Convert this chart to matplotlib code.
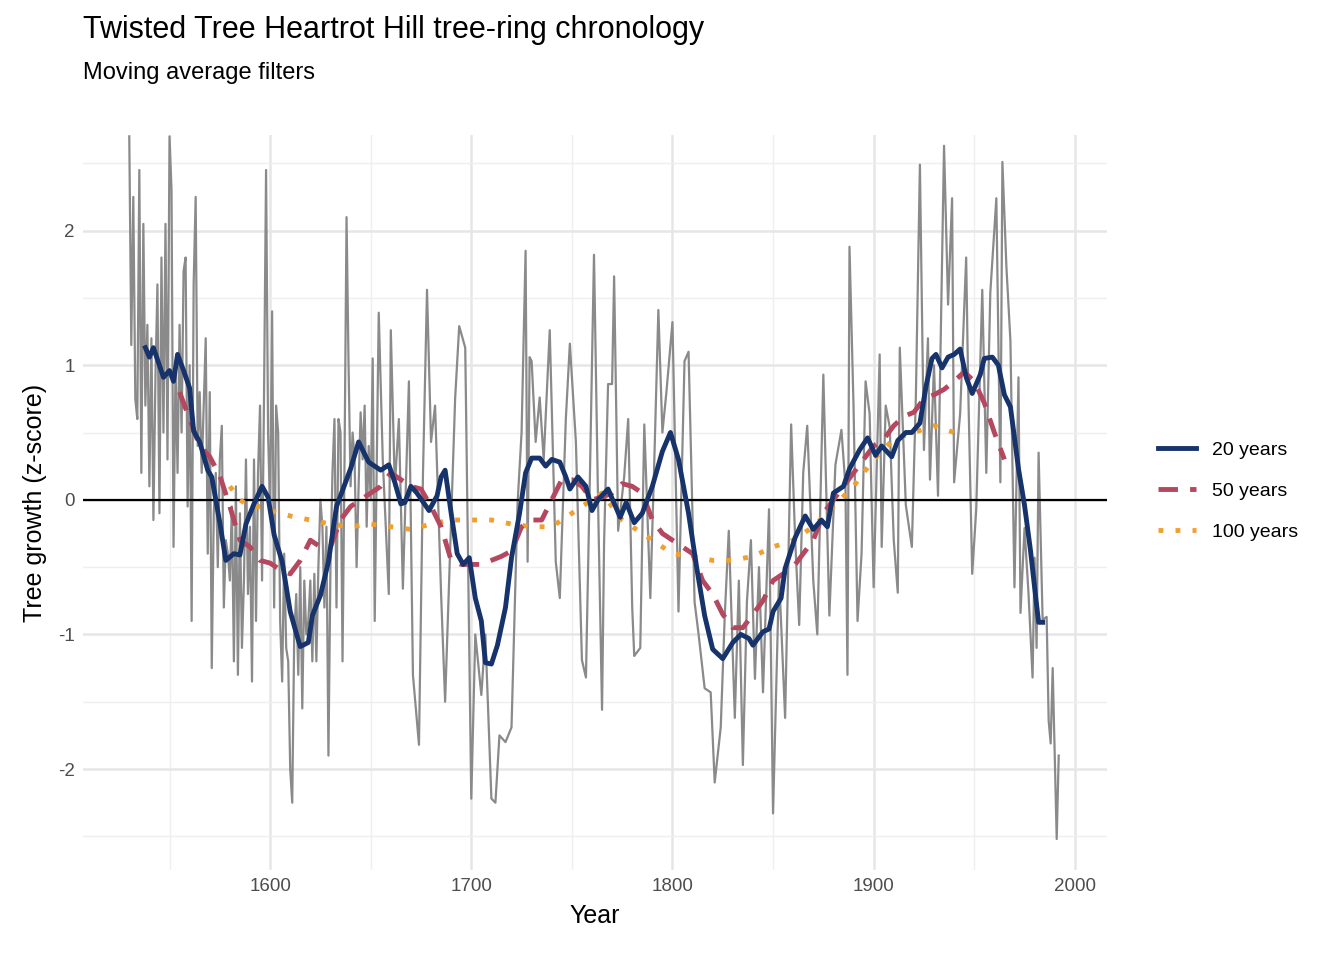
import matplotlib
matplotlib.use("Agg")
import matplotlib.pyplot as plt
from matplotlib.ticker import MultipleLocator

plt.rcParams['font.family'] = ['Liberation Sans', 'DejaVu Sans']
plt.rcParams['axes.unicode_minus'] = False

raw_years = [1530,1531,1532,1533,1534,1535,1536,1537,1538,1539,1540,1541,1542,1543,1544,1545,1546,1547,1548,1549,
             1550,1551,1552,1553,1554,1555,1556,1557,1558,1559,1560,1561,1562,1563,1564,1565,1566,1567,1568,1569,
             1570,1571,1572,1573,1574,1575,1576,1577,1578,1579,1580,1581,1582,1583,1584,1585,1586,1587,1588,1589,
             1590,1591,1592,1593,1594,1595,1596,1597,1598,1599,1600,1601,1602,1603,1604,1605,1606,1607,1608,1609,
             1610,1611,1612,1613,1614,1615,1616,1617,1618,1619,1620,1621,1622,1623,1624,1625,1626,1627,1628,1629,
             1630,1631,1632,1633,1634,1635,1636,1637,1638,1639,1640,1641,1642,1643,1644,1645,1646,1647,1648,1649,
             1650,1651,1652,1654,1656,1659,1660,1662,1664,1666,1669,1671,1674,1676,1678,1680,1682,1685,1687,1689,
             1692,1694,1697,1700,1702,1705,1707,1710,1712,1714,1717,1720,1723,1725,1727,1728,1729,1730,1732,1734,
             1736,1739,1742,1744,1747,1749,1752,1755,1757,1759,1761,1763,1765,1766,1768,1770,1771,1773,1776,1778,
             1780,1781,1784,1786,1789,1791,1793,1795,1797,1800,1803,1806,1808,1811,1813,1816,1819,1821,1824,1826,
             1828,1831,1833,1835,1837,1839,1841,1843,1845,1848,1850,1853,1856,1859,1861,1863,1865,1867,1870,1872,
             1875,1878,1881,1884,1886,1887,1888,1890,1892,1894,1896,1898,1900,1903,1904,1906,1908,1910,1912,1913,
             1916,1919,1921,1923,1925,1927,1928,1930,1932,1935,1937,1939,1940,1943,1946,1947,1949,1951,1954,1956,
             1958,1961,1963,1964,1966,1968,1970,1972,1973,1975,1977,1979,1980,1981,1982,1984,1986,1987,1988,1989,
             1991,1992]
raw_values = [2.7,1.15,2.25,0.75,0.6,2.45,0.2,2.05,0.7,1.3,0.1,1.2,-0.15,0.9,1.6,-0.1,1.8,0.5,2.05,0.3,
              2.7,2.3,-0.35,1.0,0.2,1.3,0.5,1.7,1.8,-0.05,1.0,-0.9,1.6,2.25,0.4,0.8,0.2,0.7,1.2,-0.4,
              0.8,-1.25,-0.1,0.2,-0.5,0.3,0.55,-0.8,-0.3,-0.4,-0.6,-0.05,-1.2,0.1,-1.3,-0.1,-1.1,-0.6,0.3,-0.7,
              -0.2,-1.35,0.3,-0.9,0.2,0.7,-0.6,0.8,2.45,0.5,-0.1,1.4,-0.8,0.7,0.5,-0.9,-1.35,-0.4,-1.1,-1.2,
              -2.0,-2.25,-1.0,-0.7,-1.3,-0.5,-1.55,-0.6,-1.0,-0.9,-0.6,-1.2,-0.55,-1.2,-0.5,0.0,-0.2,-0.8,-0.2,-1.9,
              -0.5,0.2,0.6,-0.8,0.6,0.5,-1.2,0.3,2.1,1.0,0.1,0.5,0.3,-0.5,0.1,0.65,0.3,0.7,-0.2,0.4,
              0.0,1.05,-0.9,1.39,0.3,-0.7,1.26,0.1,0.6,-0.66,0.88,-1.3,-1.82,0.2,1.56,0.43,0.7,-0.7,-1.5,-0.6,
              0.76,1.29,1.13,-2.22,-1.0,-1.45,-1.0,-2.22,-2.25,-1.75,-1.8,-1.69,-0.03,0.5,1.85,-0.46,1.06,1.03,0.43,0.76,
              0.3,1.26,-0.46,-0.73,0.6,1.16,0.43,-1.19,-1.32,0.2,1.82,0.0,-1.56,-0.33,0.86,0.86,1.66,-0.23,0.17,0.6,
              -0.8,-1.16,-1.1,0.56,-0.73,0.3,1.41,0.5,0.8,1.32,-0.83,1.03,1.1,-0.76,-1.0,-1.4,-1.43,-2.1,-1.69,-0.86,
              -0.23,-1.62,-0.6,-1.97,-0.76,-0.3,-1.33,-0.5,-1.43,-0.07,-2.33,-0.56,-1.62,0.56,-0.3,-0.93,0.2,0.55,-0.6,-1.0,
              0.93,-0.86,0.26,0.52,0.1,-1.3,1.88,0.7,-0.9,-0.4,0.88,0.64,-0.65,1.08,-0.35,0.7,0.54,-0.3,-0.69,1.13,
              -0.04,-0.35,0.77,2.49,0.37,1.2,0.15,1.0,0.03,2.63,1.45,2.24,0.13,0.64,1.8,0.84,-0.55,-0.07,1.56,0.2,
              1.54,2.24,0.13,2.51,1.73,1.18,-0.65,0.91,-0.84,-0.21,-0.7,-1.32,-0.43,-1.1,0.35,-0.89,-0.87,-1.64,-1.81,-1.25,
              -2.52,-1.9]

ma20_years = [1538,1540,1542,1547,1550,1552,1554,1557,1560,1562,1565,1569,1571,1575,1578,1582,1585,1588,1592,1596,
              1599,1602,1606,1610,1613,1615,1619,1621,1625,1629,1633,1636,1640,1644,1649,1655,1659,1662,1665,1667,
              1670,1673,1679,1683,1685,1687,1690,1693,1696,1699,1702,1705,1707,1710,1713,1717,1720,1724,1727,1730,
              1734,1737,1740,1744,1747,1749,1753,1757,1760,1763,1768,1774,1777,1781,1785,1790,1795,1799,1803,1808,
              1812,1816,1820,1825,1830,1834,1838,1840,1845,1848,1850,1854,1856,1861,1866,1870,1874,1877,1880,1885,
              1888,1893,1897,1901,1904,1909,1912,1916,1919,1923,1926,1929,1931,1934,1937,1940,1943,1946,1949,1953,
              1955,1959,1962,1965,1968,1972,1975,1978,1980,1982,1984]
ma20_values = [1.13,1.06,1.13,0.91,0.96,0.88,1.08,0.96,0.83,0.51,0.43,0.22,0.17,-0.17,-0.45,-0.4,-0.41,-0.18,-0.03,0.1,
               0.02,-0.26,-0.46,-0.83,-0.99,-1.09,-1.06,-0.86,-0.71,-0.46,-0.05,0.07,0.23,0.43,0.28,0.22,0.26,0.13,-0.03,-0.02,
               0.1,0.05,-0.08,0.03,0.17,0.22,-0.1,-0.4,-0.48,-0.43,-0.73,-0.9,-1.21,-1.22,-1.08,-0.8,-0.43,-0.1,0.2,0.31,
               0.31,0.25,0.3,0.28,0.17,0.08,0.17,0.1,-0.08,0.0,0.08,-0.13,-0.02,-0.17,-0.1,0.1,0.36,0.5,0.3,-0.1,
               -0.5,-0.86,-1.11,-1.18,-1.06,-1.0,-1.03,-1.08,-0.98,-0.96,-0.83,-0.73,-0.51,-0.28,-0.12,-0.22,-0.15,-0.2,0.05,0.1,
               0.23,0.37,0.46,0.33,0.4,0.32,0.44,0.5,0.5,0.57,0.84,1.05,1.08,0.98,1.06,1.08,1.12,0.91,0.79,0.93,
               1.05,1.06,1.0,0.78,0.69,0.23,-0.04,-0.38,-0.65,-0.91,-0.91]

ma50_years = list(range(1555, 1970, 5))
ma50_values = [0.8,0.6,0.4,0.32,0.18,-0.05,-0.3,-0.35,-0.45,-0.47,-0.52,-0.55,-0.45,-0.3,-0.35,-0.35,-0.15,-0.05,0.0,0.05,
               0.1,0.2,0.15,0.1,0.08,-0.05,-0.2,-0.45,-0.48,-0.48,-0.48,-0.45,-0.42,-0.38,-0.2,-0.15,-0.15,0.0,0.15,0.15,
               0.1,0.0,0.02,0.05,0.12,0.1,0.05,-0.15,-0.25,-0.3,-0.35,-0.4,-0.6,-0.7,-0.85,-0.95,-0.95,-0.85,-0.75,-0.6,
               -0.55,-0.5,-0.4,-0.3,-0.1,0.0,0.1,0.2,0.3,0.4,0.45,0.55,0.62,0.65,0.75,0.78,0.82,0.88,0.95,0.88,
               0.72,0.5,0.3]

ma100_years = [1580,1585,1590,1595,1600,1605,1610,1620,1630,1640,1650,1660,1670,1680,1690,1700,1710,1720,1730,1740,
               1750,1760,1765,1770,1775,1780,1790,1800,1810,1820,1830,1840,1850,1860,1870,1880,1890,1900,1910,1920,
               1930,1940]
ma100_values = [0.1,0.0,-0.05,-0.05,-0.08,-0.1,-0.12,-0.15,-0.18,-0.2,-0.18,-0.2,-0.22,-0.18,-0.15,-0.15,-0.15,-0.18,-0.2,-0.2,
                -0.1,0.0,0.05,-0.05,-0.15,-0.2,-0.3,-0.4,-0.42,-0.45,-0.45,-0.42,-0.35,-0.3,-0.2,-0.05,0.1,0.3,0.45,0.5,
                0.55,0.5]

fig = plt.figure(figsize=(13.44, 9.6), dpi=100)
ax = fig.add_axes([83/1344, 1-870/960, (1107-83)/1344, (870-135)/960])

ax.plot(raw_years, raw_values, color='#8a8a8a', lw=1.6, zorder=2)
ax.axhline(0, color='black', lw=1.6, zorder=3)
l1, = ax.plot(ma20_years, ma20_values, color='#17336B', lw=3.5, zorder=6, label='20 years')
l2, = ax.plot(ma50_years, ma50_values, color='#B5475F', lw=3.5, ls=(0, (4, 2.5)), zorder=5, label='50 years')
l3, = ax.plot(ma100_years, ma100_values, color='#F0A030', lw=3.5, ls=(0, (1, 2.5)), zorder=4, label='100 years')

ax.set_xlim(1507, 2016)
ax.set_ylim(-2.75, 2.71)
ax.xaxis.set_major_locator(MultipleLocator(100))
ax.xaxis.set_minor_locator(MultipleLocator(50))
ax.yaxis.set_major_locator(MultipleLocator(1))
ax.yaxis.set_minor_locator(MultipleLocator(0.5))
ax.grid(which='major', color='#e6e6e6', lw=1.8, zorder=0)
ax.grid(which='minor', color='#efefef', lw=1.0, zorder=0)
for s in ax.spines.values():
    s.set_visible(False)
ax.tick_params(which='both', length=0, labelsize=13.5, colors='#4d4d4d', pad=6)
ax.set_xlabel('Year', fontsize=18, labelpad=6)
ax.set_ylabel('Tree growth (z-score)', fontsize=18, labelpad=8)

fig.text(83/1344, 1-30/960, 'Twisted Tree Heartrot Hill tree-ring chronology', fontsize=22, va='center')
fig.text(83/1344, 1-73/960, 'Moving average filters', fontsize=17, va='center')

leg = fig.legend(handles=[l1, l2, l3], loc='center left', bbox_to_anchor=(1140/1344, 1-491/960),
                 frameon=False, fontsize=14, handlelength=2.0, labelspacing=1.2)

fig.savefig('out.png', dpi=100)
